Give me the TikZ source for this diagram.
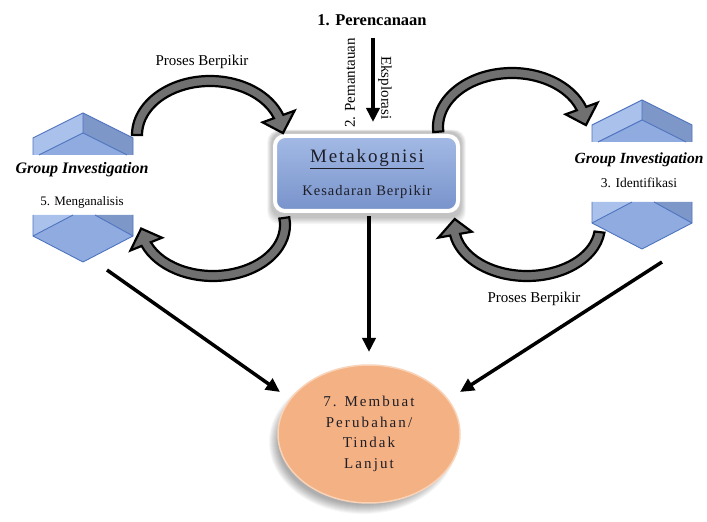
\documentclass[tikz,border=0pt]{standalone}
\usepackage{fontspec}
\setmainfont{Liberation Serif}
\newfontfamily\metafont[LetterSpace=10]{Liberation Serif}
\newfontfamily\kesfont[LetterSpace=7]{Liberation Serif}
\newfontfamily\ellfont[LetterSpace=14]{Liberation Serif}
\usetikzlibrary{arrows.meta,shapes.geometric}
\definecolor{hexlight}{HTML}{A9C1EB}
\definecolor{hexdark}{HTML}{7E97C9}
\definecolor{hexfront}{HTML}{8FABE0}
\definecolor{hexedge}{HTML}{4F74BF}
\definecolor{boxtop}{HTML}{A3BAE5}
\definecolor{boxbot}{HTML}{7893CB}
\definecolor{ellfill}{HTML}{F4B183}
\definecolor{ellrim}{HTML}{F9D3B8}
\definecolor{arrgray}{HTML}{707070}
\definecolor{txtdark}{HTML}{1E1E28}
\newcommand\curvarrow[7]{%
  \pgfmathsetmacro\rxo{#3+5}\pgfmathsetmacro\ryo{#4+5}%
  \pgfmathsetmacro\rxi{#3-5}\pgfmathsetmacro\ryi{#4-5}%
  \pgfmathsetmacro\rxh{#3+17}\pgfmathsetmacro\ryh{#4+17}%
  \pgfmathsetmacro\rxl{#3-17}\pgfmathsetmacro\ryl{#4-17}%
  \begin{scope}[shift={(#1,#2)}]
  \path[garrow] (#5:\rxo\space and \ryo) arc[start angle=#5,end angle=#6,x radius=\rxo,y radius=\ryo]
     -- (#6:\rxh\space and \ryh) -- (#7:#3 and #4) -- (#6:\rxl\space and \ryl)
     -- (#6:\rxi\space and \ryi) arc[start angle=#6,end angle=#5,x radius=\rxi,y radius=\ryi] -- cycle;
  \end{scope}}
\begin{document}
\begin{tikzpicture}[x=1pt,y=1pt,
  garrow/.style={fill=arrgray,draw=black,line width=2.2pt,line join=miter},
  blackarrow/.style={draw=black,line width=3.5pt,-{Triangle[width=13pt,length=14pt]}},
  hexline/.style={draw=hexedge,line width=0.9pt,line join=round},
  lbl/.style={inner sep=0pt,text=black},
  cube/.pic={
    \fill[hexlight] (-50,50)--(0,75)--(0,55)--(-44,33)--(-50,33)--cycle;
    \fill[hexdark] (50,50)--(0,75)--(0,55)--(44,33)--(50,33)--cycle;
    \fill[hexfront] (-44,33)--(0,55)--(44,33)--cycle;
    \fill[hexlight] (-50,-27)--(-50,-48)--(-10,-27)--cycle;
    \fill[hexdark] (50,-27)--(50,-48)--(12,-27)--cycle;
    \fill[hexfront] (-10,-27)--(12,-27)--(50,-48)--(0,-74)--(-50,-48)--cycle;
    \draw[hexline] (-50,33)--(-50,50)--(0,75)--(50,50)--(50,33);
    \draw[hexline] (0,75)--(0,55) (-44,33)--(0,55)--(44,33);
    \draw[hexline] (-50,-27)--(-50,-48)--(0,-74)--(50,-48)--(50,-27);
    \draw[hexline] (-50,-48)--(-10,-27) (50,-48)--(12,-27);
  }]
\useasboundingbox (0,0) rectangle (707,522);
\fill[white] (0,0) rectangle (707,522);

% cubes
\pic at (83,334) {cube};
\pic at (642,347) {cube};

% title and top arrow
\node[lbl] (plan) at (372,502) {\fontsize{16.5}{19}\selectfont\bfseries 1. Perencanaan};
\coordinate (v1) at (373,484);
\coordinate (v2) at (373,400);
\draw[blackarrow] (v1) -- (v2);
\node[lbl,rotate=90] (pem) at (350,439) {\fontsize{15}{18}\selectfont 2. Pemantauan};
\node[lbl,rotate=-90] (eks) at (385,434) {\fontsize{15}{18}\selectfont Eksplorasi};

% box shadow
\foreach \i in {1,...,8}
  \fill[black,opacity=0.03,rounded corners=12pt] (272-\i*0.6,305-\i*0.9) rectangle (461+\i*0.6,390+\i*0.3);
% metakognisi box
\node[draw=white,line width=4pt,rounded corners=10pt,minimum width=183pt,minimum height=75pt,
      top color=boxtop,bottom color=boxbot] (meta) at (366.5,348.5) {};
\node[lbl,text=txtdark] (metat) at (367,363) {\fontsize{19}{22}\selectfont\metafont\underline{Metakognisi}};
\node[lbl,text=txtdark] (metas) at (367,330) {\fontsize{14.5}{17}\selectfont\kesfont Kesadaran Berpikir};

% curved arrows
\curvarrow{210}{387}{73}{54}{180}{20}{2}
\curvarrow{512}{395}{74}{54}{185}{20}{2}
\curvarrow{213}{297}{72}{51}{8}{-158}{-176}
\curvarrow{527}{296}{73}{50}{-7}{-170}{-188}

% labels
\node[lbl] (pb1) at (202,460) {\fontsize{15}{18}\selectfont Proses Berpikir};
\node[lbl] (pb2) at (534,223) {\fontsize{15}{18}\selectfont Proses Berpikir};
\node[lbl] (gi1) at (82,352) {\fontsize{16}{19}\selectfont\bfseries\itshape Group Investigation};
\node[lbl] (m5) at (82,320) {\fontsize{13}{16}\selectfont 5. Menganalisis};
\node[lbl] (gi2) at (639,362) {\fontsize{15.5}{19}\selectfont\bfseries\itshape Group Investigation};
\node[lbl] (i3) at (639,339) {\fontsize{13.5}{16}\selectfont 3. Identifikasi};

% ellipse shadow
\foreach \i in {1,...,10}
  \fill[black,opacity=0.035] (363,80) ellipse ({84+\i} and {62+\i});
\node[ellipse,minimum width=182pt,minimum height=138pt,fill=ellfill,draw=ellrim,line width=1.5pt,
      align=center,text=txtdark,inner sep=0pt,font={\fontsize{15}{20.5}\selectfont\ellfont}] (goal) at (369,88)
  {7. Membuat\\ Perubahan/\\ Tindak\\ Lanjut};

% straight arrows
\coordinate (c1) at (369,306);
\coordinate (c2) at (369,170);
\draw[blackarrow] (c1) -- (c2);
\coordinate (l1) at (107,252);
\coordinate (l2) at (280,130);
\draw[blackarrow] (l1) -- (l2);
\coordinate (r1) at (662,260);
\coordinate (r2) at (460,130);
\draw[blackarrow] (r1) -- (r2);
\end{tikzpicture}
\end{document}
